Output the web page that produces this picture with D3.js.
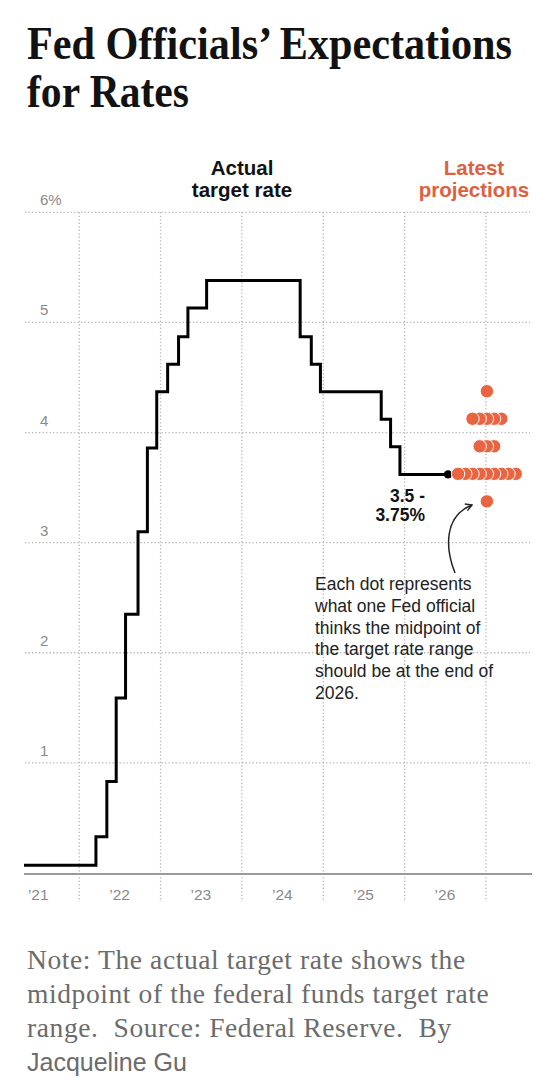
<!DOCTYPE html>
<html><head><meta charset="utf-8">
<script src="https://cdn.jsdelivr.net/npm/d3@7"></script>
<style>
html,body{margin:0;padding:0;background:#fff;}
svg{display:block;}
</style></head>
<body>
<svg id="chart" width="556" height="1080"></svg>
<script>
// ---- data ----
const rateDates = ["2021-04-28","2022-03-17","2022-05-05","2022-06-16","2022-07-28","2022-09-22","2022-11-03","2022-12-15","2023-02-02","2023-03-23","2023-05-04","2023-07-27","2024-09-19","2024-11-08","2024-12-19","2025-09-18","2025-10-30","2025-12-11","2026-07-15"];
const rateValues = [0.07,0.33,0.83,1.59,2.35,3.10,3.86,4.37,4.62,4.87,5.13,5.38,4.87,4.62,4.37,4.12,3.87,3.62,3.62];
const projectionDate = "2027-01-01";
const projectionValues = [4.375,4.125,4.125,4.125,4.125,4.125,3.875,3.875,3.875,3.625,3.625,3.625,3.625,3.625,3.625,3.625,3.625,3.625,3.375];
const yTicks = [1,2,3,4,5,6];
const yTickLabels = ["1","2","3","4","5","6%"];
const gridYears = ["2022","2023","2024","2025","2026","2027"];
const yearLabels = ["’21","’22","’23","’24","’25","’26"];
const yearLabelDates = ["2021-07-01","2022-07-01","2023-07-01","2024-07-01","2025-07-01","2026-07-01"];

const parse = d3.timeParse("%Y-%m-%d");
const svg = d3.select("#chart");
const sans = "'Liberation Sans', Arial, sans-serif";
const serif = "'Liberation Serif', 'Times New Roman', serif";
const orange = "#ea6441";

const x = d3.scaleTime().domain([parse("2021-04-28"), parse("2027-07-18")]).range([24, 530]);
const y = d3.scaleLinear().domain([0, 6]).range([873, 212.3]);

// ---- title ----
svg.append("text").attr("x",27).attr("y",59).attr("font-family",serif).attr("font-weight","bold")
  .attr("font-size",46).attr("fill","#121212").attr("textLength",485).attr("lengthAdjust","spacingAndGlyphs")
  .text("Fed Officials’ Expectations");
svg.append("text").attr("x",27).attr("y",107).attr("font-family",serif).attr("font-weight","bold")
  .attr("font-size",46).attr("fill","#121212").attr("textLength",162).attr("lengthAdjust","spacingAndGlyphs")
  .text("for Rates");

// ---- grid ----
const grid = svg.append("g");
grid.selectAll("line.h").data(yTicks).join("line")
  .attr("x1",25).attr("x2",530).attr("y1",d=>y(d)).attr("y2",d=>y(d))
  .attr("stroke","#b5b5b5").attr("stroke-width",1.3).attr("stroke-dasharray","1.3,2.2");
grid.selectAll("line.v").data(gridYears).join("line")
  .attr("x1",d=>x(parse(d+"-01-01"))).attr("x2",d=>x(parse(d+"-01-01")))
  .attr("y1",y(6)).attr("y2",902)
  .attr("stroke","#b5b5b5").attr("stroke-width",1.3).attr("stroke-dasharray","1.3,2.2");

// y labels
svg.selectAll("text.yl").data(yTicks).join("text")
  .attr("x",40).attr("y",d=>y(d)-7).attr("font-family",sans).attr("font-size",15)
  .attr("fill","#8a8a8a").text((d,i)=>yTickLabels[i]);

// axis baseline
svg.append("line").attr("x1",24).attr("x2",532).attr("y1",874).attr("y2",874)
  .attr("stroke","#9a9a9a").attr("stroke-width",2);

// year labels
svg.selectAll("text.xl").data(yearLabelDates).join("text")
  .attr("x",d=>x(parse(d))).attr("y",900).attr("text-anchor","middle")
  .attr("font-family",sans).attr("font-size",15.5).attr("fill","#8a8a8a")
  .text((d,i)=>yearLabels[i]);

// ---- actual rate step line ----
const pts = rateDates.map((d,i)=>[x(parse(d)), y(rateValues[i])]);
svg.append("path").attr("d", d3.line().curve(d3.curveStepAfter)(pts))
  .attr("fill","none").attr("stroke","#000").attr("stroke-width",3).attr("stroke-linejoin","miter");
const last = pts[pts.length-1];
svg.append("circle").attr("cx",last[0]).attr("cy",last[1]).attr("r",4.2).attr("fill","#000");

// ---- projection dots ----
const groups = d3.groups(projectionValues, d=>d);
const cx0 = x(parse(projectionDate)) + 1;
const step = 7.2;
const dotData = [];
groups.forEach(([v, arr])=>{
  const n = arr.length;
  arr.forEach((_,j)=>dotData.push({v, cx: cx0 + (j-(n-1)/2)*step, j}));
});
dotData.sort((a,b)=>b.cx-a.cx);
svg.append("g").selectAll("circle").data(dotData).join("circle")
  .attr("cx",d=>d.cx).attr("cy",d=>y(d.v)).attr("r",6.7)
  .attr("fill",orange).attr("stroke","#fff").attr("stroke-width",1);

// ---- headers ----
const hdr = (t,xx,yy,col)=>svg.append("text").attr("x",xx).attr("y",yy).attr("text-anchor","middle")
  .attr("font-family",sans).attr("font-weight","bold").attr("font-size",20.5).attr("fill",col).text(t);
hdr("Actual",242,175,"#121212");
hdr("target rate",242,197,"#121212");
hdr("Latest",474,175,"#e0603e");
hdr("projections",474,197,"#e0603e");

// ---- rate annotation ----
svg.append("text").attr("x",425).attr("y",502).attr("text-anchor","end").attr("font-family",sans)
  .attr("font-weight","bold").attr("font-size",17.5).attr("fill","#121212").text("3.5 -");
svg.append("text").attr("x",425).attr("y",521).attr("text-anchor","end").attr("font-family",sans)
  .attr("font-weight","bold").attr("font-size",17.5).attr("fill","#121212").text("3.75%");

// ---- arrow ----
const defs = svg.append("defs");
defs.append("marker").attr("id","ah").attr("viewBox","0 0 10 10").attr("refX",8).attr("refY",5)
  .attr("markerWidth",9).attr("markerHeight",9).attr("markerUnits","userSpaceOnUse").attr("orient","auto")
  .append("path").attr("d","M1,1 L8,5 L1,9").attr("fill","none").attr("stroke","#222").attr("stroke-width",1.6);
svg.append("path").attr("d","M455,573 C445,548 444,516 472,505")
  .attr("fill","none").attr("stroke","#222").attr("stroke-width",1.5).attr("marker-end","url(#ah)");

// ---- note text ----
const noteLines = ["Each dot represents","what one Fed official","thinks the midpoint of","the target rate range","should be at the end of","2026."];
svg.append("g").selectAll("text").data(noteLines).join("text")
  .attr("x",315).attr("y",(d,i)=>590+i*21.8).attr("font-family",sans).attr("font-size",17.5)
  .attr("fill","#222").text(d=>d);

// ---- footer ----
const footLines = ["Note: The actual target rate shows the","midpoint of the federal funds target rate","range.  Source: Federal Reserve.  By"];
svg.append("g").selectAll("text").data(footLines).join("text")
  .attr("x",27).attr("y",(d,i)=>969+i*34).attr("font-family",serif).attr("font-size",27.5)
  .attr("letter-spacing",0.6)
  .attr("fill","#6b6b6b").style("white-space","pre").text(d=>d);
svg.append("text").attr("x",27).attr("y",1071).attr("font-family",sans).attr("font-size",25)
  .attr("fill","#6b6b6b").text("Jacqueline Gu");
</script>
</body></html>
